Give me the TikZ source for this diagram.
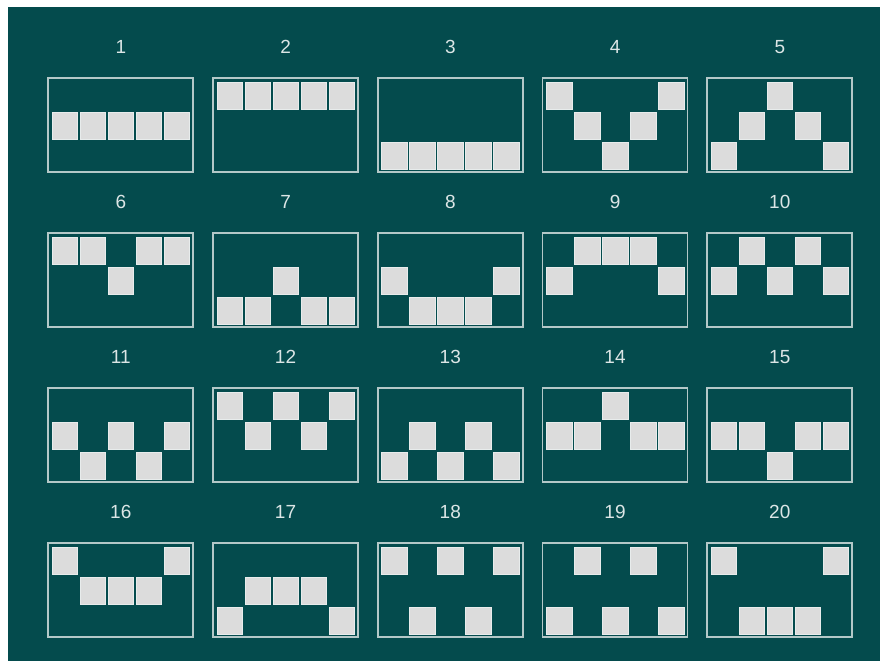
\documentclass[tikz,border=0pt]{standalone}
\usepackage{fontspec}
\setmainfont{Liberation Sans}
\definecolor{bgteal}{HTML}{044B4D}
\definecolor{framec}{HTML}{B4C8C8}
\definecolor{cellc}{HTML}{DCDCDC}
\definecolor{cellb}{HTML}{E8ECEC}
\definecolor{labelc}{HTML}{DCE6E6}
\begin{document}
\begin{tikzpicture}[x=1pt,y=-1pt,
  framebox/.style={draw=framec, line width=1.8pt},
  cellbox/.style={fill=cellc, draw=cellb, line width=0.6pt},
  lbl/.style={text=labelc, font=\fontsize{19}{19}\selectfont, inner sep=0pt}]
\useasboundingbox (0,0) rectangle (880,661);
\fill[white] (0,0) rectangle (880,661);
\fill[bgteal] (8,7) rectangle (880,661);
\foreach \pat [count=\n from 0] in {
  {1,1,1,1,1},{0,0,0,0,0},{2,2,2,2,2},{0,1,2,1,0},{2,1,0,1,2},
  {0,0,1,0,0},{2,2,1,2,2},{1,2,2,2,1},{1,0,0,0,1},{1,0,1,0,1},
  {1,2,1,2,1},{0,1,0,1,0},{2,1,2,1,2},{1,1,0,1,1},{1,1,2,1,1},
  {0,1,1,1,0},{2,1,1,1,2},{0,2,0,2,0},{2,0,2,0,2},{0,2,2,2,0}} {
  \pgfmathtruncatemacro\cc{mod(\n,5)}
  \pgfmathtruncatemacro\rr{div(\n,5)}
  \pgfmathtruncatemacro\num{\n+1}
  \pgfmathsetmacro\X{48.3+164.75*\cc}
  \pgfmathsetmacro\Y{78.3+155*\rr}
  \node[lbl] (lab\num) at (\X+72.5,\Y-31) {\num};
  \node[framebox, minimum width=145pt, minimum height=94pt, inner sep=0pt, outer sep=0pt, anchor=north west] (box\num) at (\X,\Y) {};
  \foreach \rw [count=\k from 0] in \pat {
    \fill[cellbox] (\X+3.8+28*\k,\Y+3.6+30*\rw) rectangle ++(25.5,27);
  }
}
\end{tikzpicture}
\end{document}
